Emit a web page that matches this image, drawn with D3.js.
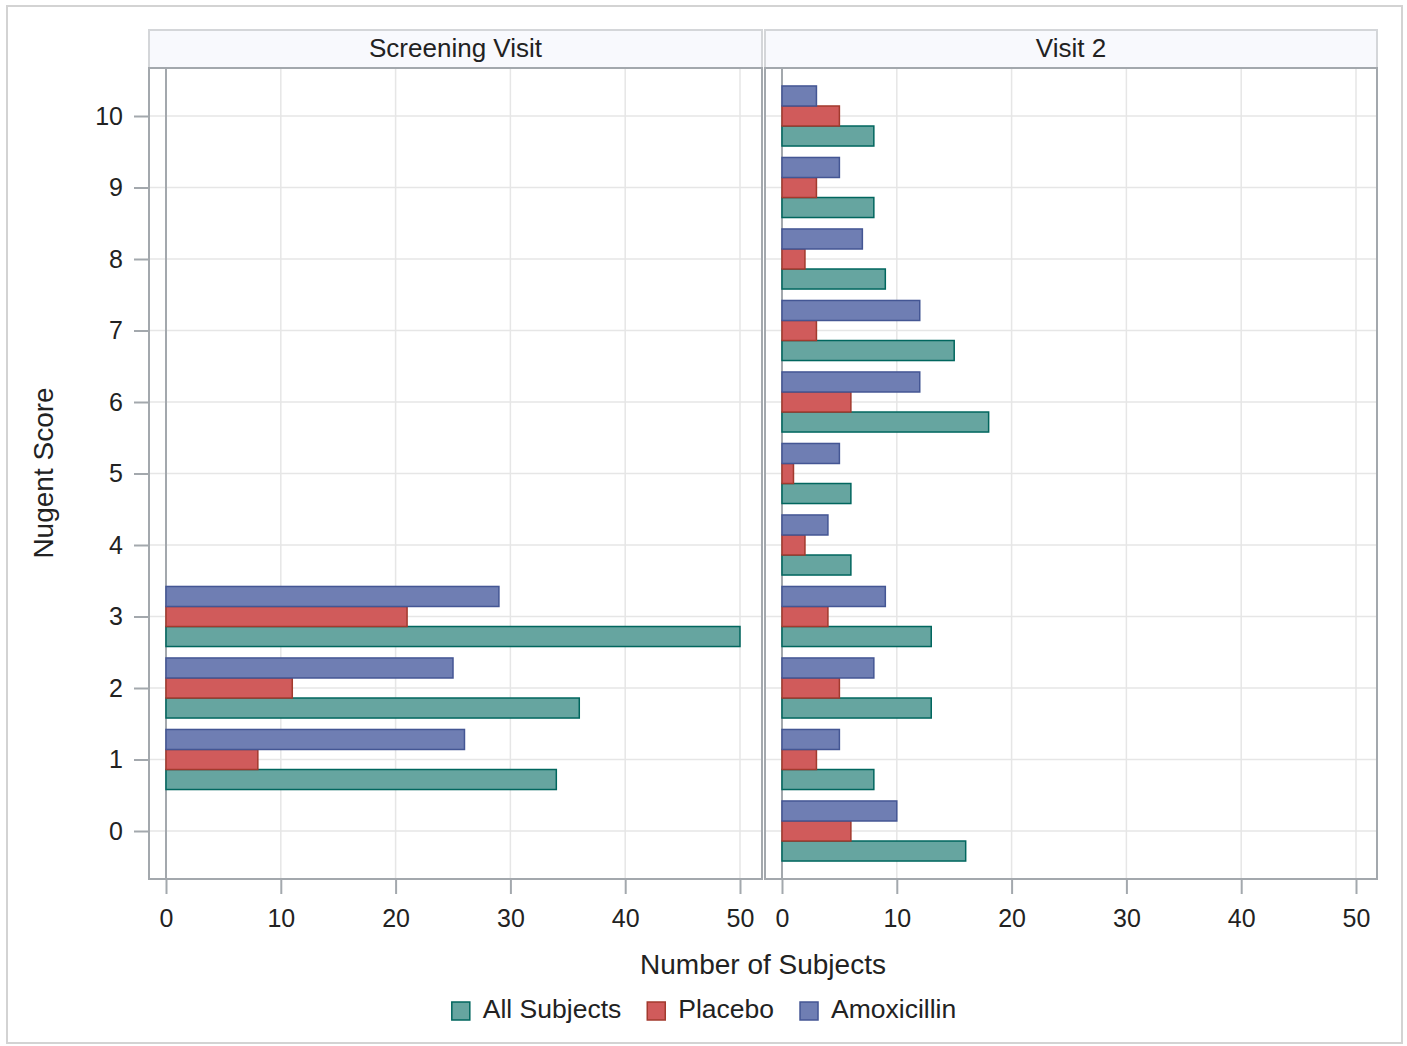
<!DOCTYPE html>
<html>
<head>
<meta charset="utf-8">
<script src="https://cdn.jsdelivr.net/npm/d3@7"></script>
<style>
  html, body { margin: 0; padding: 0; background: #fff; }
  svg { display: block; font-family: "Liberation Sans", Arial, sans-serif; }
</style>
</head>
<body>
<svg id="chart" width="1407" height="1046"></svg>
<script>
// Nugent score categories (y axis)
const scores = [0, 1, 2, 3, 4, 5, 6, 7, 8, 9, 10];
const xTicks = [0, 10, 20, 30, 40, 50];

// Visit panels
const visits = ["Screening Visit", "Visit 2"];

// Groups (legend order)
const groups = ["All Subjects", "Placebo", "Amoxicillin"];

// Number of subjects per Nugent score, Screening Visit (null = no subjects)
const screeningAll       = [null, 34, 36, 50, null, null, null, null, null, null, null];
const screeningPlacebo   = [null,  8, 11, 21, null, null, null, null, null, null, null];
const screeningAmox      = [null, 26, 25, 29, null, null, null, null, null, null, null];

// Number of subjects per Nugent score, Visit 2
const visit2All     = [16, 8, 13, 13, 6, 6, 18, 15, 9, 8, 8];
const visit2Placebo = [ 6, 3,  5,  4, 2, 1,  6,  3, 2, 3, 5];
const visit2Amox    = [10, 5,  8,  9, 4, 5, 12, 12, 7, 5, 3];

const fills   = { "All Subjects": "#66a5a0", "Placebo": "#d05b5b", "Amoxicillin": "#6f7eb3" };
const strokes = { "All Subjects": "#01665e", "Placebo": "#a23a2e", "Amoxicillin": "#445694" };
// vertical offset of each group's bar within a category (in score units)
const offsets = { "All Subjects": -0.28, "Placebo": 0, "Amoxicillin": 0.28 };
const barHalf = 0.14;

const panelData = [
  { visit: visits[0], series: { "All Subjects": screeningAll, "Placebo": screeningPlacebo, "Amoxicillin": screeningAmox } },
  { visit: visits[1], series: { "All Subjects": visit2All, "Placebo": visit2Placebo, "Amoxicillin": visit2Amox } }
];

const svg = d3.select("#chart");
const textColor = "#222";
const borderColor = "#a3a8ad";
const gridColor = "#e6e6e6";

// outer frame
svg.append("rect").attr("x", 7).attr("y", 6).attr("width", 1395).attr("height", 1037)
  .attr("fill", "#fff").attr("stroke", "#d3d3d3").attr("stroke-width", 2);

const plotTop = 68, plotBottom = 879, headerTop = 30;
const panels = [
  { left: 149, right: 762, zero: 166, fifty: 740 },
  { left: 765, right: 1377, zero: 782, fifty: 1356 }
];

const y = d3.scaleLinear().domain([0, 10]).range([831, 116]);

panels.forEach((p, i) => {
  const x = d3.scaleLinear().domain([0, 50]).range([p.zero, p.fifty]);
  const g = svg.append("g");
  const pd = panelData[i];

  // header cell
  g.append("rect").attr("x", p.left).attr("y", headerTop)
    .attr("width", p.right - p.left).attr("height", plotTop - headerTop)
    .attr("fill", "#f8f9fd").attr("stroke", "#d4d6d9").attr("stroke-width", 2);
  g.append("text").attr("x", (p.left + p.right) / 2).attr("y", (headerTop + plotTop) / 2 + 1)
    .attr("text-anchor", "middle").attr("dominant-baseline", "middle")
    .attr("font-size", 26).attr("fill", textColor).text(pd.visit);

  // grid
  g.selectAll(".hgrid").data(scores).join("line")
    .attr("x1", p.left).attr("x2", p.right)
    .attr("y1", d => y(d)).attr("y2", d => y(d))
    .attr("stroke", gridColor).attr("stroke-width", 1.5);
  g.selectAll(".vgrid").data(xTicks.filter(t => t > 0)).join("line")
    .attr("x1", d => x(d)).attr("x2", d => x(d))
    .attr("y1", plotTop).attr("y2", plotBottom)
    .attr("stroke", gridColor).attr("stroke-width", 1.5);

  // zero reference line
  g.append("line").attr("x1", x(0)).attr("x2", x(0)).attr("y1", plotTop).attr("y2", plotBottom)
    .attr("stroke", borderColor).attr("stroke-width", 2);

  // bars
  groups.forEach(grp => {
    const vals = pd.series[grp];
    const rows = scores.map((s, k) => ({ s, v: vals[k] })).filter(r => r.v != null && r.v > 0);
    g.selectAll(null).data(rows).join("rect")
      .attr("x", x(0))
      .attr("y", r => y(r.s + offsets[grp] + barHalf))
      .attr("width", r => x(r.v) - x(0))
      .attr("height", r => y(r.s + offsets[grp] - barHalf) - y(r.s + offsets[grp] + barHalf))
      .attr("fill", fills[grp]).attr("stroke", strokes[grp]).attr("stroke-width", 1.5);
  });

  // panel border
  g.append("rect").attr("x", p.left).attr("y", plotTop)
    .attr("width", p.right - p.left).attr("height", plotBottom - plotTop)
    .attr("fill", "none").attr("stroke", borderColor).attr("stroke-width", 2);

  // x axis
  const xAxis = d3.axisBottom(x).tickValues(xTicks).tickSize(15).tickPadding(15).tickFormat(d3.format("d"));
  const ax = svg.append("g").attr("transform", `translate(0,${plotBottom})`).call(xAxis);
  ax.select(".domain").remove();
  ax.selectAll(".tick line").attr("stroke", borderColor).attr("stroke-width", 2);
  ax.selectAll(".tick text").attr("font-size", 25).attr("fill", textColor)
    .attr("font-family", "Liberation Sans, Arial, sans-serif");
});

// y axis
const yAxis = d3.axisLeft(y).tickValues(scores).tickSize(15).tickPadding(11).tickFormat(d3.format("d"));
const ay = svg.append("g").attr("transform", `translate(149,0)`).call(yAxis);
ay.select(".domain").remove();
ay.selectAll(".tick line").attr("stroke", borderColor).attr("stroke-width", 2);
ay.selectAll(".tick text").attr("font-size", 25).attr("fill", textColor)
  .attr("font-family", "Liberation Sans, Arial, sans-serif");

// axis labels
svg.append("text").attr("x", 763).attr("y", 967).attr("text-anchor", "middle")
  .attr("dominant-baseline", "middle").attr("font-size", 28).attr("fill", textColor)
  .text("Number of Subjects");
svg.append("text").attr("transform", "translate(46,473) rotate(-90)")
  .attr("text-anchor", "middle").attr("dominant-baseline", "middle")
  .attr("font-size", 28).attr("fill", textColor).text("Nugent Score");

// legend
const legend = svg.append("g");
const sw = 18, gapText = 13, gapItem = 26;
let cx = 0;
groups.forEach(grp => {
  const it = legend.append("g");
  it.append("rect").attr("x", 0).attr("y", -sw / 2).attr("width", sw).attr("height", sw)
    .attr("fill", fills[grp]).attr("stroke", strokes[grp]).attr("stroke-width", 1.5);
  const t = it.append("text").attr("x", sw + gapText).attr("y", 0)
    .attr("dominant-baseline", "middle").attr("font-size", 26.5).attr("fill", textColor).text(grp);
  const w = sw + gapText + t.node().getComputedTextLength();
  it.attr("transform", `translate(${cx},0)`);
  cx += w + gapItem;
});
const totalW = cx - gapItem;
legend.attr("transform", `translate(${704 - totalW / 2},1011)`);
</script>
</body>
</html>
